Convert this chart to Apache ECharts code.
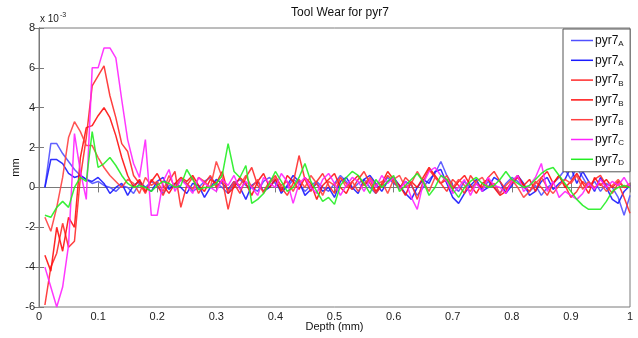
<!DOCTYPE html>
<html>
<head>
<meta charset="utf-8">
<script src="https://cdn.jsdelivr.net/npm/echarts@6/dist/echarts.min.js"></script>
<style>html,body{margin:0;padding:0;background:#fff;}#c{width:638px;height:338px;}</style>
</head>
<body>
<div id="c"></div>
<script>
var depth = [0.01,0.02,0.03,0.04,0.05,0.06,0.07,0.08,0.09,0.10,
0.11,0.12,0.13,0.14,0.15,0.16,0.17,0.18,0.19,0.20,
0.21,0.22,0.23,0.24,0.25,0.26,0.27,0.28,0.29,0.30,
0.31,0.32,0.33,0.34,0.35,0.36,0.37,0.38,0.39,0.40,
0.41,0.42,0.43,0.44,0.45,0.46,0.47,0.48,0.49,0.50,
0.51,0.52,0.53,0.54,0.55,0.56,0.57,0.58,0.59,0.60,
0.61,0.62,0.63,0.64,0.65,0.66,0.67,0.68,0.69,0.70,
0.71,0.72,0.73,0.74,0.75,0.76,0.77,0.78,0.79,0.80,
0.81,0.82,0.83,0.84,0.85,0.86,0.87,0.88,0.89,0.90,
0.91,0.92,0.93,0.94,0.95,0.96,0.97,0.98,0.99,1.00];

var pyr7_A1 = [0.0,2.2,2.2,1.7,1.3,0.9,0.6,0.4,0.2,0.3,
0.1,0.0,-0.2,0.1,0.0,-0.3,0.2,0.0,0.3,0.1,
-0.3,0.1,0.0,0.4,0.2,-0.2,0.0,0.3,0.5,0.2,
0.0,-0.3,0.2,0.4,0.1,0.0,-0.2,0.3,0.5,0.2,
-0.1,0.0,0.4,0.2,-0.2,0.1,0.3,0.0,-0.2,0.2,
0.6,0.3,-0.1,0.2,0.4,0.0,-0.3,0.1,0.5,0.2,
0.0,0.3,0.1,-0.4,0.0,0.4,0.7,1.3,0.6,0.1,
-0.2,0.3,0.0,0.2,-0.1,0.3,0.0,-0.3,0.2,0.5,
0.3,0.0,-0.2,0.1,-0.4,0.0,0.2,0.5,0.9,0.4,
1.0,0.5,0.0,0.3,-0.2,0.2,0.0,-0.5,-1.4,-0.4];

var pyr7_A2 = [0.0,1.4,1.4,1.2,0.7,0.5,0.6,0.4,0.3,0.5,
0.2,-0.3,0.0,0.2,-0.4,0.1,0.3,0.0,-0.2,0.3,
0.5,-0.1,0.2,0.0,-0.3,0.2,0.1,-0.5,0.0,0.4,
0.2,-0.1,0.3,0.0,-0.6,0.1,0.3,-0.2,0.0,0.4,
-0.3,0.1,0.6,0.3,-0.4,-0.1,0.2,-0.2,0.0,-0.5,
0.3,0.5,0.0,-0.3,0.4,0.6,0.2,-0.2,0.3,0.5,
0.1,-0.3,-0.6,0.0,0.4,0.2,0.8,0.9,0.2,-0.5,
-0.8,-0.3,0.1,0.4,-0.2,0.0,0.5,0.3,-0.3,0.1,
0.6,0.2,-0.4,-0.2,0.3,0.5,-0.1,0.2,0.4,1.0,
0.2,0.8,0.3,-0.2,0.5,0.0,-0.6,-0.8,-0.2,0.1];

var pyr7_B1 = [-5.9,-4.0,-3.3,-1.8,-3.0,-2.7,0.5,2.5,5.1,5.6,
6.1,4.6,3.5,2.2,1.8,0.6,0.2,-0.3,0.4,0.1,
-0.4,0.3,0.8,-1.0,0.1,0.5,-0.3,0.2,0.6,0.0,
0.4,-1.1,0.2,-0.3,0.5,1.0,0.1,-0.2,0.3,0.6,
0.0,-0.4,0.2,1.6,0.4,-0.2,0.3,0.7,0.1,-0.3,
0.5,0.2,-0.1,0.4,0.8,0.2,-0.3,0.1,0.6,0.3,
-0.1,0.5,0.2,-0.6,0.3,0.9,0.5,0.2,-0.2,0.4,
0.1,-0.3,0.6,0.2,0.0,0.5,0.8,0.3,-0.1,0.2,
0.5,0.1,-0.2,0.3,0.0,-0.4,0.2,0.6,0.1,-0.5,
-0.2,0.3,0.0,0.4,0.6,0.1,-0.3,0.2,-0.5,-1.3];

var pyr7_B2 = [-3.4,-4.2,-2.0,-3.2,-1.5,-2.0,1.5,3.0,3.1,3.6,
4.0,3.5,2.6,1.5,0.6,0.0,0.4,-0.2,0.3,0.7,
0.1,-0.3,0.2,0.5,0.3,0.6,0.1,-0.2,0.4,0.2,
0.8,-0.3,0.0,0.5,0.2,-0.4,0.3,0.7,0.0,0.4,
-0.2,0.6,0.3,-0.1,0.5,0.2,-0.6,0.1,0.4,0.7,
0.0,-0.3,0.3,0.6,0.1,0.4,-0.2,0.2,0.8,0.4,
0.1,-0.4,0.3,0.0,0.5,1.0,0.6,0.2,0.4,-0.1,
0.3,0.6,0.1,-0.3,0.2,0.4,0.0,-0.4,-0.2,0.3,
0.6,0.1,0.4,-0.2,0.5,0.8,0.2,0.6,0.0,0.3,
0.7,0.2,-0.3,0.5,0.1,0.4,0.0,0.3,0.0,0.1];

var pyr7_B3 = [-1.5,-2.2,-1.0,0.5,2.5,3.3,2.8,2.1,2.1,1.5,
1.0,0.6,0.3,0.0,0.4,0.2,-0.3,0.5,0.1,0.3,
-0.2,0.6,0.0,0.4,0.2,-0.1,0.5,0.3,0.0,1.3,
0.5,-0.2,0.3,0.1,0.6,0.0,0.4,-0.3,0.2,0.5,
0.1,0.3,-0.2,0.4,0.0,0.6,0.2,-0.4,0.3,0.1,
0.5,0.0,0.3,-0.2,0.2,0.5,0.1,0.3,-0.3,0.4,
0.6,0.0,0.2,0.8,0.3,-0.2,0.5,0.2,0.6,0.0,
0.4,0.1,-0.2,0.3,0.5,0.0,0.2,-0.3,0.1,0.4,
0.0,-0.5,-0.2,0.2,0.5,0.0,-0.3,0.1,0.4,0.2,
0.6,-0.1,0.3,0.0,0.2,-0.2,0.1,0.4,0.0,0.2];

var pyr7_C = [-4.0,-5.0,-6.0,-5.0,-2.9,2.7,0.8,-0.6,6.0,6.0,
7.0,7.0,6.5,4.4,2.4,1.2,0.5,2.4,-1.4,-1.4,
0.3,0.9,-0.2,0.4,0.1,-0.3,0.5,0.2,0.0,-0.2,
0.4,0.1,0.6,-0.1,0.3,0.0,-0.4,0.5,0.2,0.0,
0.7,0.3,-0.8,0.2,0.5,0.0,-0.3,0.4,0.7,0.2,
-0.4,0.1,0.5,0.3,-0.2,0.4,0.0,0.6,0.2,0.5,
-0.1,0.3,-0.5,-1.1,0.2,0.8,1.0,0.6,0.3,-0.3,
0.0,0.4,-0.4,0.2,-0.2,0.5,0.1,0.0,-0.3,0.3,
0.6,-0.2,0.1,0.5,1.2,-0.2,0.3,-0.5,-0.2,-0.4,
-0.6,-0.3,0.2,-0.1,0.4,0.0,0.3,0.1,0.5,0.0];

var pyr7_D = [-1.4,-1.5,-1.0,-0.7,-1.0,0.0,0.5,0.3,2.8,1.0,
1.2,1.5,1.1,0.6,0.2,0.0,0.1,0.0,-0.2,0.1,
0.3,0.2,0.0,0.1,0.9,0.4,-0.1,0.0,0.0,0.2,
0.6,2.2,0.8,0.5,1.1,-0.8,-0.6,-0.3,0.2,0.8,
0.3,-0.2,0.0,0.5,1.2,0.3,-0.2,-0.7,-0.5,-0.85,
0.1,0.5,0.8,0.6,0.2,-0.3,0.4,0.0,0.3,0.6,
-0.2,0.1,0.4,0.7,0.3,-0.4,0.0,0.6,0.4,-0.1,
-0.5,0.0,0.3,0.5,0.2,0.0,0.1,0.4,0.8,0.4,
0.2,0.0,0.1,0.4,0.7,0.9,1.0,0.6,0.2,-0.2,
-0.6,-0.9,-1.1,-1.1,-1.1,-0.7,-0.2,0.0,0.1,0.0];

var seriesNames = ['A1','A2','B1','B2','B3','C','D'];
var seriesSubs = ['A','A','B','B','B','C','D'];
var seriesValues = [pyr7_A1, pyr7_A2, pyr7_B1, pyr7_B2, pyr7_B3, pyr7_C, pyr7_D];
var seriesColors = ['#5050ff','#1a1aff','#ff2a2a','#ff1010','#ff4040','#ff22ff','#22ee22'];

var yTicks = [-6,-4,-2,0,2,4,6,8];
var xTicks = [0,0.1,0.2,0.3,0.4,0.5,0.6,0.7,0.8,0.9,1];

var FONT = 'Liberation Sans, Arial, sans-serif';
var axisCol = '#7a7a7a';

function pairs(vals){ return vals.map(function(v,i){ return [depth[i], v]; }); }

var series = seriesNames.map(function(n, k){
  return {
    name: n, type: 'line', data: pairs(seriesValues[k]),
    xAxisIndex: 0, yAxisIndex: 0,
    symbol: 'none', showSymbol: false,
    lineStyle: {color: seriesColors[k], width: 1.5, opacity: 0.9},
    itemStyle: {color: seriesColors[k]},
    animation: false
  };
});

var chart = echarts.init(document.getElementById('c'), null, {renderer: 'canvas'});
chart.setOption({
  backgroundColor: '#fff',
  animation: false,
  textStyle: {fontFamily: FONT},
  title: {
    text: 'Tool Wear for pyr7', left: 335, top: 2, textAlign: 'center',
    textStyle: {fontFamily: FONT, fontSize: 12, fontWeight: 'normal', color: '#111'}
  },
  grid: {left: 39, right: 8, top: 28, bottom: 31, containLabel: false,
         outerBoundsMode: 'none',
         show: true, borderColor: axisCol, borderWidth: 1},
  legend: {
    orient: 'vertical', left: 563, top: 29,
    data: seriesNames,
    itemWidth: 22, itemHeight: 10, itemGap: 4.8,
    padding: [4, 6, 5, 8],
    borderColor: '#555', borderWidth: 1, backgroundColor: '#fff',
    icon: 'path://M0,0 L22,0 L22,1.5 L0,1.5 Z',
    formatter: function(name){ var i = seriesNames.indexOf(name); return '{m|pyr7}{s|' + seriesSubs[i] + '}'; },
    textStyle: {
      fontFamily: FONT, color: '#111', padding: [0,0,0,-3],
      rich: {
        m: {fontFamily: FONT, fontSize: 12, color: '#111', lineHeight: 14},
        s: {fontFamily: FONT, fontSize: 8, color: '#111', lineHeight: 14, padding: [7,0,0,0]}
      }
    }
  },
  xAxis: [
    {type: 'value', min: 0, max: 1, interval: 0.1, position: 'bottom',
     name: 'Depth (mm)', nameLocation: 'middle', nameGap: 14, nameMoveOverlap: false,
     nameTextStyle: {fontFamily: FONT, fontSize: 11, color: '#111'},
     axisLine: {show: true, lineStyle: {color: axisCol}},
     axisTick: {show: true, inside: true, length: 5, lineStyle: {color: axisCol}},
     axisLabel: {fontFamily: FONT, fontSize: 11, color: '#222', margin: 4,
                 formatter: function(v){ return String(Math.round(v*10)/10); }},
     splitLine: {show: false}},
    {type: 'value', min: 0, max: 1, interval: 0.1, position: 'top',
     axisLine: {show: true, lineStyle: {color: axisCol}},
     axisTick: {show: true, inside: true, length: 5, lineStyle: {color: axisCol}},
     axisLabel: {show: false}, splitLine: {show: false}}
  ],
  yAxis: [
    {type: 'value', min: -6, max: 8, interval: 2, position: 'left',
     name: 'mm', nameLocation: 'middle', nameGap: 18, nameRotate: 90, nameMoveOverlap: false,
     nameTextStyle: {fontFamily: FONT, fontSize: 11, color: '#111'},
     axisLine: {show: true, lineStyle: {color: axisCol}},
     axisTick: {show: true, inside: true, length: 5, lineStyle: {color: axisCol}},
     axisLabel: {fontFamily: FONT, fontSize: 11, color: '#222', margin: 4},
     splitLine: {show: false}},
    {type: 'value', min: -6, max: 8, interval: 2, position: 'right',
     axisLine: {show: true, lineStyle: {color: axisCol}},
     axisTick: {show: true, inside: true, length: 5, lineStyle: {color: axisCol}},
     axisLabel: {show: false}, splitLine: {show: false}}
  ],
  graphic: [{
    type: 'text', left: 40, top: 11,
    style: {
      text: '{a|x 10}{b|-3}',
      rich: {
        a: {fontFamily: FONT, fontSize: 10, fill: '#222', lineHeight: 12, padding: [3,0,0,0]},
        b: {fontFamily: FONT, fontSize: 7, fill: '#222', lineHeight: 12, padding: [0,0,4,1]}
      }
    }
  }],
  series: series
});
</script>
</body>
</html>
